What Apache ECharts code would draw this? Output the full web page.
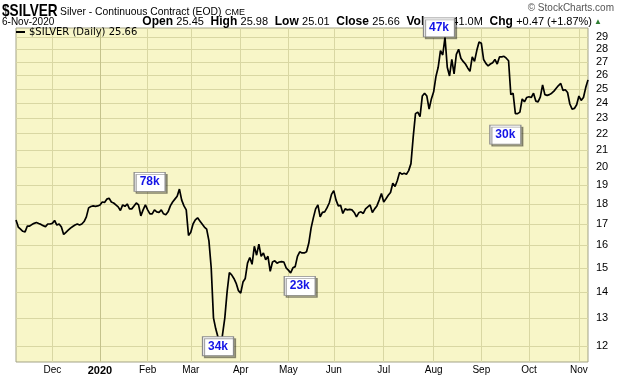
<!DOCTYPE html>
<html>
<head>
<meta charset="utf-8">
<script src="https://cdn.jsdelivr.net/npm/echarts@6/dist/echarts.min.js"></script>
<style>
  html, body { margin: 0; padding: 0; background: #fff; }
  #chart { width: 620px; height: 376px; }
</style>
</head>
<body>
<div id="chart"></div>
<script>
// trading days, 7-Nov-2019 .. 6-Nov-2020 (weekdays minus exchange holidays)
var firstDay = '2019-11-07';
var lastDay = '2020-11-06';
var holidays = ['2019-11-28', '2019-12-25', '2020-01-01', '2020-01-20', '2020-02-17',
                '2020-04-10', '2020-05-25', '2020-07-03', '2020-09-07'];

// daily close
var closes = [
  17.20, 16.85, 16.75, 16.65, 16.62, 16.90, 16.90, 16.97, 17.03, 17.07,
  17.02, 16.98, 16.92, 16.87, 17.00, 17.00, 17.03, 17.17, 16.95, 17.00,
  16.85, 16.50, 16.60, 16.70, 16.80, 16.88, 16.95, 17.00, 16.95, 17.00,
  17.12, 17.35, 17.80, 17.87, 17.90, 17.88, 17.90, 17.95, 18.10, 18.08,
  18.25, 18.30, 18.10, 18.05, 17.95, 17.85, 17.67, 17.95, 17.88, 18.00,
  17.75, 17.75, 17.90, 18.05, 17.95, 17.40, 17.70, 17.95, 17.70, 17.50,
  17.50, 17.70, 17.60, 17.57, 17.70, 17.50, 17.45, 17.60, 17.90, 18.10,
  18.25, 18.40, 18.78, 18.20, 17.90, 17.70, 16.45, 16.60, 17.00, 17.20,
  17.30, 17.15, 17.00, 16.85, 16.75, 16.20, 15.00, 13.00, 12.60, 12.30,
  11.80, 12.40, 13.00, 14.00, 14.80, 14.70, 14.55, 14.35, 14.05, 13.95,
  14.40, 14.55, 15.20, 15.45, 15.15, 15.95, 15.55, 16.05, 15.50, 15.65,
  15.35, 15.50, 14.85, 15.25, 15.30, 15.20, 15.25, 15.27, 15.25, 15.00,
  14.90, 14.78, 15.00, 15.05, 15.50, 15.70, 15.65, 15.65, 15.70, 16.10,
  16.80, 17.30, 17.75, 17.95, 17.35, 17.57, 17.60, 17.80, 18.05, 18.50,
  18.70, 18.20, 17.90, 17.93, 17.52, 17.75, 17.70, 17.72, 17.70, 17.57,
  17.35, 17.55, 17.60, 17.52, 17.75, 17.85, 17.95, 17.57, 17.75, 17.90,
  18.20, 18.55, 18.10, 18.27, 18.45, 18.60, 19.10, 18.92, 19.25, 19.70,
  19.60, 19.65, 19.60, 19.80, 20.20, 21.80, 23.30, 23.40, 23.10, 24.50,
  24.70, 24.50, 23.60, 24.30, 24.80, 25.90, 26.60, 27.90, 27.55, 28.97,
  26.60, 25.95, 27.20, 26.10, 27.60, 28.00, 27.30, 27.05, 26.85, 26.55,
  26.30, 27.40, 27.05, 27.90, 28.60, 28.50, 27.20, 26.90, 26.70, 26.85,
  26.95, 27.20, 26.85, 27.40, 27.40, 27.45, 27.30, 27.10, 24.60, 24.70,
  23.30, 23.30, 23.40, 24.30, 24.10, 24.40, 24.45, 24.40, 24.70, 24.15,
  24.10, 24.45, 25.30, 24.60, 24.55, 24.60, 24.70, 24.85, 25.05, 25.25,
  25.40, 24.90, 24.95, 24.75, 23.95, 23.60, 23.65, 23.90, 24.50, 24.20,
  24.40, 25.10, 25.66
];

var priceTicks = [12, 13, 14, 15, 16, 17, 18, 19, 20, 21, 22, 23, 24, 25, 26, 27, 28, 29];
var monthNames = ['Jan', 'Feb', 'Mar', 'Apr', 'May', 'Jun', 'Jul', 'Aug', 'Sep', 'Oct', 'Nov', 'Dec'];

// volume notes on the chart: day index, text, box offset from that close
var notes = [
  { idx: 58,  text: '78k', dx: 2,   dy: -28 },
  { idx: 89,  text: '34k', dx: 0,   dy: 9 },
  { idx: 125, text: '23k', dx: 0,   dy: 34 },
  { idx: 189, text: '47k', dx: -6,  dy: -10 },
  { idx: 220, text: '30k', dx: -10, dy: 21 }
];

var dates = [];
(function () {
  var d = new Date(firstDay + 'T00:00:00Z');
  var end = new Date(lastDay + 'T00:00:00Z');
  while (d <= end) {
    var s = d.toISOString().slice(0, 10);
    var wd = d.getUTCDay();
    if (wd !== 0 && wd !== 6 && holidays.indexOf(s) < 0) dates.push(s);
    d.setUTCDate(d.getUTCDate() + 1);
  }
})();

var monthStart = {};
var yearStart = null;
for (var i = 1; i < dates.length; i++) {
  if (dates[i].slice(5, 7) !== dates[i - 1].slice(5, 7)) monthStart[i] = true;
  if (dates[i].slice(0, 4) !== dates[i - 1].slice(0, 4)) yearStart = dates[i];
}

var chart = echarts.init(document.getElementById('chart'));
var font = '"Liberation Sans", Arial, sans-serif';
var gridColor = '#D9D7A3';

var gridLines = priceTicks.map(function (v) { return { yAxis: v }; });
gridLines.push({
  xAxis: yearStart,
  lineStyle: { color: '#C4C28C', width: 1, type: 'solid' },
  label: { show: false }
});

chart.setOption({
  animation: false,
  backgroundColor: '#fff',
  textStyle: { fontFamily: font },
  grid: {
    left: 16, right: 32, top: 28, bottom: 14,
    show: true, backgroundColor: '#F8F6C8', borderColor: '#A3A387', borderWidth: 1
  },
  legend: {
    left: 16, top: 27, padding: 0,
    icon: 'rect', itemWidth: 9, itemHeight: 2, itemGap: 4,
    formatter: function () { return '$SILVER (Daily) ' + closes[closes.length - 1].toFixed(2); },
    textStyle: { fontFamily: '"DejaVu Sans", sans-serif', fontSize: 10, color: '#000', padding: [0, 0, 0, -1] },
    selectedMode: false
  },
  xAxis: {
    type: 'category',
    data: dates,
    boundaryGap: false,
    axisLine: { show: false },
    axisTick: { show: false },
    splitLine: {
      show: true,
      interval: function (idx) { return !!monthStart[idx]; },
      lineStyle: { color: gridColor, width: 1 }
    },
    axisLabel: {
      interval: function (idx) { return !!monthStart[idx]; },
      margin: 3,
      fontSize: 10,
      color: '#000',
      formatter: function (val) {
        var m = +val.slice(5, 7);
        if (m === 1) return '{y|' + val.slice(0, 4) + '}';
        return monthNames[m - 1];
      },
      rich: { y: { fontWeight: 'bold', fontSize: 11, color: '#000' } }
    }
  },
  yAxis: {
    type: 'log',
    logBase: 10,
    position: 'right',
    min: 11.46,
    max: 29.76,
    axisLine: { show: false },
    axisTick: { show: false },
    axisLabel: { show: false },
    splitLine: { show: false }
  },
  series: [{
    name: '$SILVER',
    type: 'line',
    data: closes,
    showSymbol: false,
    color: '#000',
    lineStyle: { color: '#000', width: 1.7 },
    z: 3,
    markLine: {
      silent: true,
      symbol: 'none',
      z: 1,
      lineStyle: { color: gridColor, width: 1, type: 'solid' },
      label: {
        show: true, position: 'end', distance: 8,
        fontSize: 11, color: '#000', fontFamily: font,
        formatter: function (p) { return String(p.value); }
      },
      data: gridLines
    },
    markPoint: {
      silent: true,
      symbol: 'rect',
      symbolSize: [31, 19],
      itemStyle: {
        color: '#fff', borderColor: '#8A8A8A', borderWidth: 1,
        shadowColor: 'rgba(0,0,0,0.35)', shadowOffsetX: 2, shadowOffsetY: 2, shadowBlur: 0
      },
      label: {
        show: true, position: 'inside',
        color: '#1414E6', fontWeight: 'bold', fontSize: 12, fontFamily: font,
        formatter: function (p) { return p.name; }
      },
      data: notes.map(function (n) {
        return {
          name: n.text,
          coord: [dates[n.idx], closes[n.idx]],
          symbolOffset: [n.dx, n.dy]
        };
      })
    }
  }],
  graphic: [
    {
      type: 'text', x: 2, y: 3, scaleX: 0.8, z: 0,
      style: { text: '$SILVER', fontFamily: font, fontWeight: 'bold', fontSize: 17, fill: '#000' }
    },
    {
      type: 'text', x: 60, y: 6, scaleX: 0.94, z: 0,
      style: { text: 'Silver - Continuous Contract (EOD)', fontFamily: font, fontSize: 11, fill: '#000' }
    },
    {
      type: 'text', x: 225, y: 8, z: 0,
      style: { text: 'CME', fontFamily: font, fontSize: 9, fill: '#000' }
    },
    {
      type: 'text', left: 2, top: 17, z: 0,
      style: { text: '6-Nov-2020', fontFamily: font, fontSize: 10, fill: '#000' }
    },
    {
      type: 'text', right: 28, top: 16, z: 0,
      style: {
        text: '{l|Open} {v|25.45}  {l|High} {v|25.98}  {l|Low} {v|25.01}  {l|Close} {v|25.66}  {l|Volume} {v|41.0M}  {l|Chg} {v|+0.47 (+1.87%)}',
        rich: {
          l: { fontFamily: font, fontWeight: 'bold', fontSize: 12, fill: '#000' },
          v: { fontFamily: font, fontSize: 11, fill: '#000' }
        }
      }
    },
    {
      type: 'text', right: 18, top: 18, z: 0,
      style: { text: '\u25B2', fontSize: 8, fill: '#2E7D32' }
    },
    {
      type: 'text', right: 6, top: 3, z: 0,
      style: { text: '\u00A9 StockCharts.com', fontFamily: font, fontSize: 10, fill: '#555' }
    }
  ]
});
</script>
</body>
</html>
